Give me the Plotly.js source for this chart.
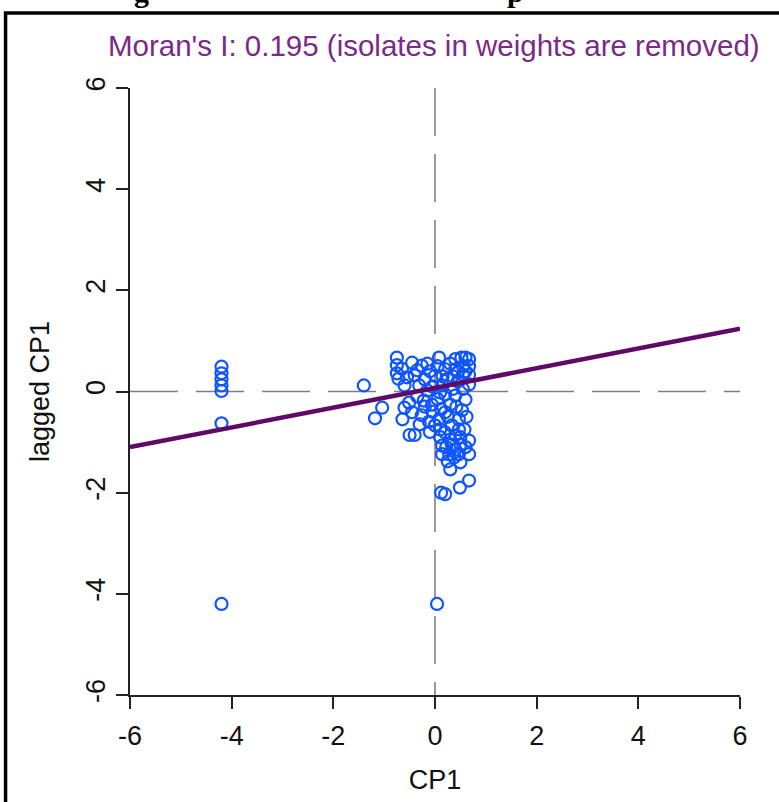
<!DOCTYPE html>
<html>
<head>
<meta charset="utf-8">
<script src="https://cdn.plot.ly/plotly-3.0.1.min.js"></script>
<style>html,body{margin:0;padding:0;background:#fff;}#chart{width:779px;height:802px;}</style>
</head>
<body>
<div id="chart"></div>
<script>
// Data
const cp1 = [-4.2,-4.2,-4.2,-4.2,-4.2,-4.2,-4.2,0.04,-1.4,
  -1.04,-1.18,-0.64,-0.5,-0.4,-0.45,-0.26,-0.6,-0.51,-0.22,
  -0.75,-0.75,-0.75,-0.72,-0.6,-0.45,-0.26,-0.4,-0.2,-0.31,-0.55,-0.1,-0.05,-0.15,
  0.08,0.05,0.4,0.52,0.6,0.67,0.67,0.67,0.67,0.55,0.55,0.4,0.2,0.0,0.25,0.45,0.15,0.55,0.35,0.1,
  0.2,0.4,0.6,-0.06,0.3,0.53,0.2,-0.05,0.08,0.47,0.0,0.33,0.2,0.47,0.4,0.1,0.62,-0.12,0.25,-0.3,
  0.67,0.67,0.47,0.28,0.14,0.14,0.33,0.5,0.3,0.67,0.49,0.2,0.12,0.25,0.5,0.4,0.1,
  -0.65,-0.35,-0.15,0.3,0.45,0.6,0.35,0.15,-0.35,-0.2,0.05,0.42,0.58,0.3,0.5,0.22,0.38,0.6,-0.1,0.12];
const laggedCp1 = [0.49,0.36,0.24,0.12,0.01,-0.63,-4.2,-4.2,0.12,
  -0.32,-0.53,-0.55,-0.86,-0.86,-0.41,-0.47,-0.32,-0.22,-0.18,
  0.67,0.52,0.36,0.25,0.12,0.57,0.51,0.32,0.24,0.12,0.28,0.4,0.1,0.02,
  0.67,0.5,0.64,0.67,0.67,0.64,0.5,0.33,0.14,0.5,0.33,0.44,0.44,0.31,0.25,0.2,0.12,0.05,0.05,-0.02,
  -0.06,-0.08,-0.16,-0.26,-0.26,-0.37,-0.41,-0.4,-0.55,-0.55,-0.67,-0.67,-0.81,-0.75,-0.87,-0.9,-0.5,-0.6,-0.5,-0.65,
  -0.97,-1.24,-1.24,-1.24,-1.07,-1.24,-1.05,-1.05,-1.54,-1.76,-1.9,-2.03,-2.0,-1.38,-1.4,-1.15,-0.75,
  0.45,0.42,0.55,0.55,0.38,0.4,0.3,0.3,-0.1,-0.3,-0.15,-0.3,-0.75,-0.95,-0.9,-1.1,-1.3,-1.1,-0.8,-0.35];
const moransI = 0.195;
const intercept = 0.07;
const axisRange = [-6, 6];
const tickVals = [-6, -4, -2, 0, 2, 4, 6];
const titleText = "Moran's I: 0.195 (isolates in weights are removed)";

const lineX = axisRange.slice();
const lineY = lineX.map(v => intercept + moransI * v);

const traces = [
  {x: cp1, y: laggedCp1, type: 'scatter', mode: 'markers',
   marker: {symbol: 'circle-open', size: 12, color: '#0f55ff', line: {width: 2.2, color: '#0f55ff'}},
   hoverinfo: 'x+y', showlegend: false},
  {x: lineX, y: lineY, type: 'scatter', mode: 'lines',
   line: {color: '#5e0a66', width: 4.5}, showlegend: false, hoverinfo: 'skip'}
];

const fontFam = 'Liberation Sans, Arial, sans-serif';
const axisCommon = {
  range: axisRange, tickvals: tickVals, ticktext: tickVals.map(String),
  showgrid: false, zeroline: false, showline: true, linecolor: '#222', linewidth: 2,
  ticks: 'outside', ticklen: 12, tickwidth: 2, tickcolor: '#222',
  tickfont: {family: fontFam, size: 27, color: '#111'},
  mirror: false, fixedrange: true
};

const layout = {
  width: 779, height: 802,
  margin: {l: 130, r: 39, t: 88, b: 107},
  paper_bgcolor: '#fff', plot_bgcolor: '#fff',
  xaxis: Object.assign({}, axisCommon, {
    ticklabelstandoff: 4,
    title: {text: 'CP1', font: {family: fontFam, size: 27, color: '#111'}, standoff: 20}
  }),
  yaxis: Object.assign({}, axisCommon, {
    tickangle: -90,
    title: {text: 'lagged CP1', font: {family: fontFam, size: 27, color: '#111'}, standoff: 24}
  }),
  shapes: [
    {type: 'line', xref: 'x', yref: 'y', x0: 0, x1: 0, y0: 6, y1: -6,
     line: {color: '#808080', width: 1.6, dash: '48px,18px'}, layer: 'below'},
    {type: 'line', xref: 'x', yref: 'y', x0: -6, x1: 6, y0: 0, y1: 0,
     line: {color: '#808080', width: 1.6, dash: '48px,18px'}, layer: 'below'},
    {type: 'rect', xref: 'paper', yref: 'paper', x0: -0.204, x1: 1.3, y0: -0.5, y1: 1.1235,
     line: {color: '#000', width: 3.5}, fillcolor: 'rgba(0,0,0,0)'}
  ],
  annotations: [
    {text: titleText, xref: 'paper', yref: 'paper', x: 0.498, y: (695 - 45) / 607,
     xanchor: 'center', yanchor: 'middle', showarrow: false,
     font: {family: fontFam, size: 29.5, color: '#7a2a88'}},
    {text: '<b>g</b>', xref: 'paper', yref: 'paper', x: (141 - 130) / 610, y: (695 + 9) / 607,
     xanchor: 'center', yanchor: 'middle', showarrow: false,
     font: {family: 'Liberation Serif, Times New Roman, serif', size: 30, color: '#000'}},
    {text: '<b>p</b>', xref: 'paper', yref: 'paper', x: (515 - 130) / 610, y: (695 + 9) / 607,
     xanchor: 'center', yanchor: 'middle', showarrow: false,
     font: {family: 'Liberation Serif, Times New Roman, serif', size: 30, color: '#000'}}
  ]
};

Plotly.newPlot('chart', traces, layout, {displayModeBar: false, staticPlot: true});
</script>
</body>
</html>
